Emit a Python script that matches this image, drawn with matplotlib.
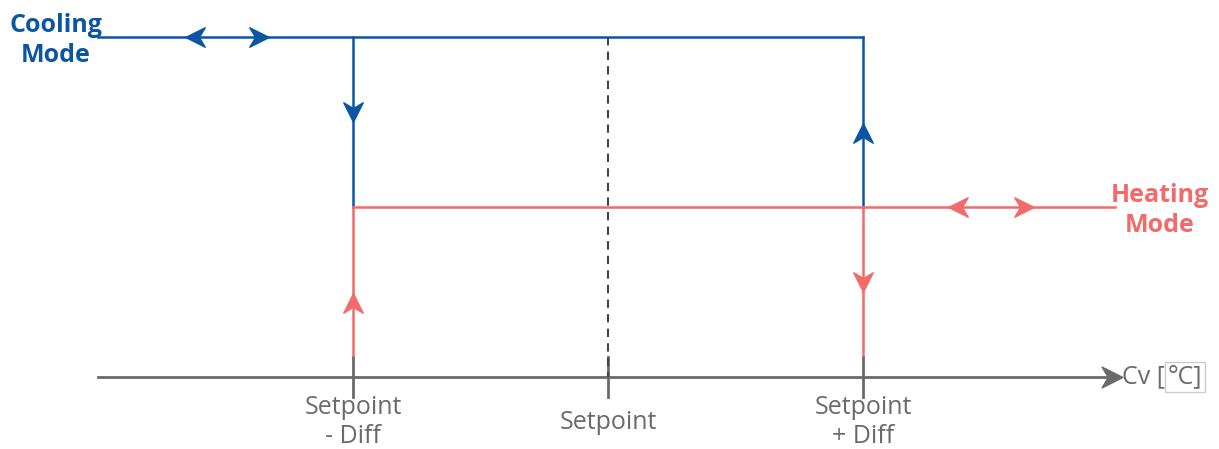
import matplotlib
matplotlib.use('Agg')
import matplotlib.pyplot as plt
from matplotlib.path import Path
from matplotlib.markers import MarkerStyle
from matplotlib.transforms import Affine2D
from matplotlib.offsetbox import TextArea, HPacker, PaddedBox, AnnotationBbox

plt.rcParams['font.family'] = ['Open Sans', 'DejaVu Sans']

BLUE = '#0b56a4'
RED = '#f26a6a'
GREY = '#6a6a6a'

# diagram values (x in "diff" units around the setpoint, y = output level)
axis_level = 0
heating_level = 1
cooling_level = 2
x_start, x_end = -2, 2
setpoint_x = [-1, 0, 1]
setpoint_labels = ['Setpoint\n- Diff', 'Setpoint', 'Setpoint\n+ Diff']
red_bottom = 0.13
tick_half = 0.12

# arrow markers: (x, y, direction in degrees)
cooling_arrows = [(-1.62, 2, 180), (-1.37, 2, 0), (-1, 1.56, -90), (1, 1.435, 90)]
heating_arrows = [(1.373, 1, 180), (1.631, 1, 0), (-1, 0.435, 90), (1, 0.56, -90)]

stealth = Path([(1, 0), (-1, 1), (-0.4, 0), (-1, -1), (1, 0)],
               [Path.MOVETO, Path.LINETO, Path.LINETO, Path.LINETO, Path.CLOSEPOLY])


def arrow(ax, x, y, deg, color, size=14):
    m = MarkerStyle(stealth, transform=Affine2D().rotate_deg(deg))
    ax.plot(x, y, marker=m, markersize=size, color=color, linestyle='none', zorder=5)


fig = plt.figure(figsize=(12.19, 4.49), dpi=100)
ax = fig.add_axes([0, 0, 1, 1])
ax.set_xlim(-608 / 255, 611 / 255)
ax.set_ylim(-72 / 170, 377 / 170)
ax.axis('off')

# x axis
ax.plot([x_start, 1.97], [axis_level, axis_level], color=GREY, lw=2)
arrow(ax, 1.975, axis_level, 0, GREY, size=15)
for sx in setpoint_x:
    ax.plot([sx, sx], [-tick_half, tick_half], color=GREY, lw=2)

# setpoint dashed line
ax.plot([0, 0], [cooling_level, axis_level], color='#444444', lw=1.5, linestyle=(0, (4, 3)))

# cooling path
ax.plot([x_start, setpoint_x[2]], [cooling_level, cooling_level], color=BLUE, lw=1.8)
ax.plot([setpoint_x[0]] * 2, [cooling_level, heating_level], color=BLUE, lw=1.8)
ax.plot([setpoint_x[2]] * 2, [cooling_level, heating_level], color=BLUE, lw=1.8)

# heating path
ax.plot([setpoint_x[0], 1.99], [heating_level, heating_level], color=RED, lw=1.8)
ax.plot([setpoint_x[0]] * 2, [heating_level, red_bottom], color=RED, lw=1.8)
ax.plot([setpoint_x[2]] * 2, [heating_level, red_bottom], color=RED, lw=1.8)

for x, y, d in cooling_arrows:
    arrow(ax, x, y, d, BLUE)
for x, y, d in heating_arrows:
    arrow(ax, x, y, d, RED)

# labels
ax.text(-2.165, cooling_level - 0.02, 'Cooling\nMode', color=BLUE, fontsize=18, fontweight='bold',
        ha='center', va='center', linespacing=1.25)
ax.text(2.165, heating_level - 0.022, 'Heating\nMode', color=RED, fontsize=18, fontweight='bold',
        ha='center', va='center', linespacing=1.25)

for sx, lab in zip(setpoint_x, setpoint_labels):
    ax.text(sx, -0.265, lab, color=GREY, fontsize=18, ha='center', va='center', linespacing=1.18)

# axis unit label, with the faint box around the degree sign
tp = dict(color=GREY, fontsize=18)
deg = PaddedBox(TextArea('°C]', textprops=tp), pad=2, draw_frame=True,
                patch_attrs=dict(edgecolor='#cccccc', facecolor='none', linewidth=1,
                                 boxstyle='square,pad=0'))
unit = HPacker(children=[TextArea('Cv [', textprops=tp), deg],
               align='baseline', pad=0, sep=0)
ab = AnnotationBbox(unit, (2.016, axis_level), box_alignment=(0, 0.5), frameon=False)
ax.add_artist(ab)

fig.savefig('out.png', dpi=100)
